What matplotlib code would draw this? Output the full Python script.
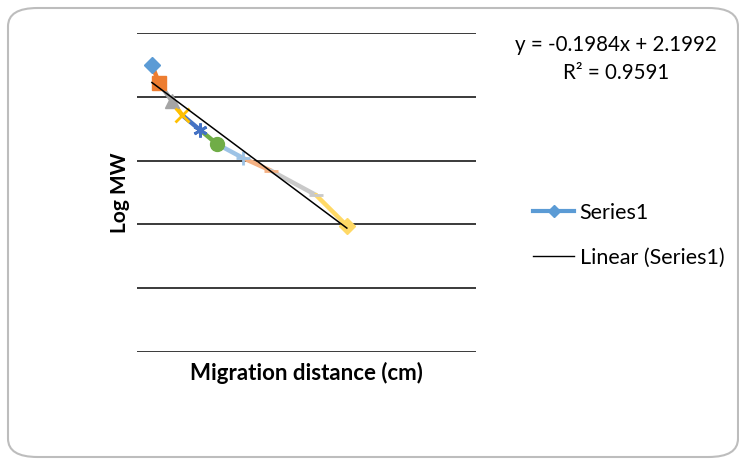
import numpy as np
import matplotlib.pyplot as plt
from matplotlib.patches import FancyBboxPatch
from matplotlib.lines import Line2D

plt.rcParams['font.family'] = ['Lato', 'DejaVu Sans']

# migration distance (cm) and log MW, one marker per band
distance = [0.44, 0.65, 1.03, 1.33, 1.86, 2.36, 3.13, 3.96, 5.28, 6.19]
log_mw = [2.249, 2.108, 1.967, 1.857, 1.740, 1.630, 1.520, 1.420, 1.230, 0.990]

# Excel "vary colours by point" look
point_colors = ['#5B9BD5', '#ED7D31', '#A5A5A5', '#FFC000', '#4472C4',
                '#70AD47', '#9DC3E6', '#F4B183', '#C9C9C9', '#FFD966']
point_markers = ['D', 's', '^', 'x', (6, 2, 0), 'o', '+', '_', '_', 'D']

slope, intercept = -0.1984, 2.1992
r_squared = 0.9591

fig = plt.figure(figsize=(7.39, 4.59), dpi=100)

# rounded chart border
frame = FancyBboxPatch((8 / 739, 2 / 459), 730 / 739, 449 / 459,
                       boxstyle='round,pad=0,rounding_size=0.04',
                       transform=fig.transFigure, facecolor='white',
                       edgecolor='#BDBDBD', linewidth=1.5, zorder=-1)
fig.patches.append(frame)

ax = fig.add_axes([137 / 739, 107 / 459, 339 / 739, 319 / 459])
ax.set_facecolor('none')

# coloured segments, each drawn in the colour of the point it ends on
for i in range(1, len(distance)):
    ax.plot(distance[i - 1:i + 1], log_mw[i - 1:i + 1], color=point_colors[i],
            linewidth=3.2, solid_capstyle='round', zorder=3)
for i in range(len(distance)):
    m = point_markers[i]
    lw = 2 if m in ('x', '+', '_') or isinstance(m, tuple) else 1
    ax.plot(distance[i], log_mw[i], marker=m, color=point_colors[i],
            markersize=10 if m != 'D' else 8, markeredgewidth=lw,
            markeredgecolor=point_colors[i], zorder=4)

# linear trendline
tx = np.array([min(distance), max(distance)])
ax.plot(tx, slope * tx + intercept, color='black', linewidth=1.1, zorder=5)

ax.set_xlim(0, 10)
ax.set_ylim(0, 2.5)
ax.set_yticks(np.arange(0, 2.51, 0.5))
ax.set_xticks([])
ax.tick_params(left=False, labelleft=False)
ax.grid(axis='y', color='#2b2b2b', linewidth=1.3)
for s in ax.spines.values():
    s.set_visible(False)

ax.set_xlabel('Migration distance (cm)', fontsize=16, fontweight='bold', labelpad=7)
ax.set_ylabel('Log MW', fontsize=15, fontweight='bold', labelpad=5)

fig.text(616 / 739, 1 - 45 / 459, f'y = {slope}x + {intercept}', fontsize=14.8,
         ha='center', va='center')
fig.text(616 / 739, 1 - 73 / 459, f'R² = {r_squared}', fontsize=14.8,
         ha='center', va='center')

handles = [Line2D([], [], color='#5B9BD5', linewidth=3, marker='D', markersize=6),
           Line2D([], [], color='black', linewidth=1)]
fig.legend(handles, ['Series1', 'Linear (Series1)'], loc='center left',
           bbox_to_anchor=(514 / 739, 1 - 235 / 459), frameon=False,
           fontsize=15.5, handlelength=1.9, handletextpad=0.25, labelspacing=1.15)

fig.savefig('out.png', dpi=100)
